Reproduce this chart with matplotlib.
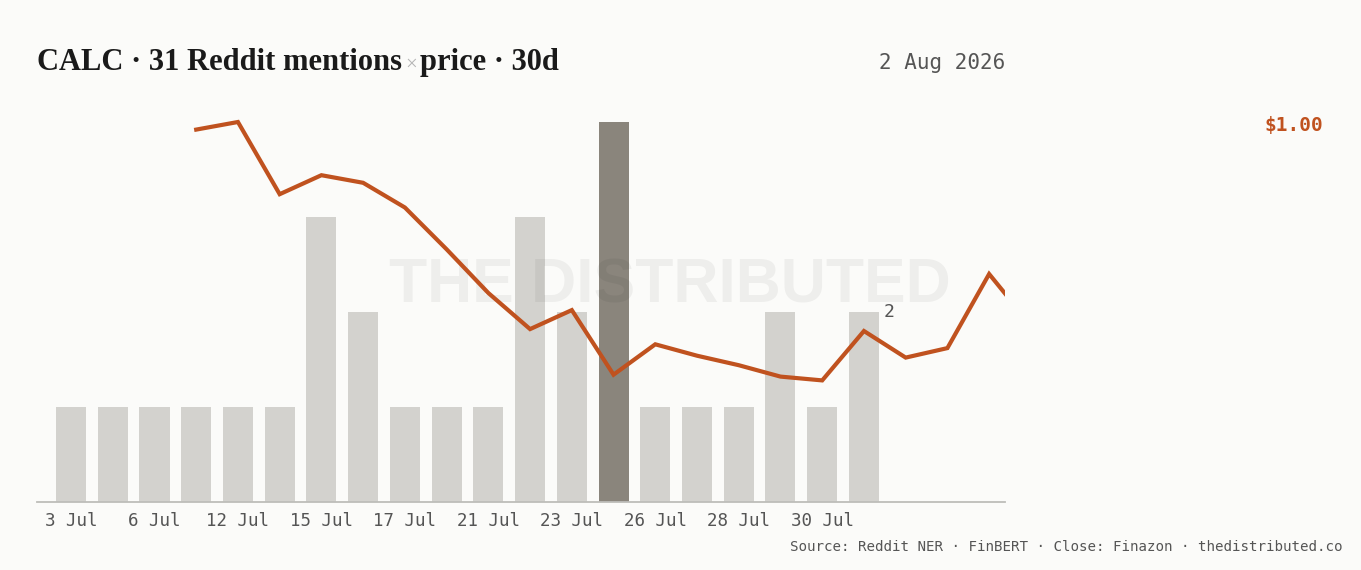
import numpy as np
import matplotlib.pyplot as plt

# mention days (bars) and counts
dates = ["3 Jul", "5 Jul", "6 Jul", "10 Jul", "12 Jul", "14 Jul", "15 Jul", "16 Jul",
         "17 Jul", "20 Jul", "21 Jul", "22 Jul", "23 Jul", "24 Jul", "26 Jul", "27 Jul",
         "28 Jul", "29 Jul", "30 Jul", "31 Jul"]
mentions = [1, 1, 1, 1, 1, 1, 3, 2, 1, 1, 1, 3, 2, 4, 1, 1, 1, 2, 1, 2]

# daily close, starts at the 4th slot and runs past the last bar
close = [None, None, None,
         0.996, 1.000, 0.962, 0.972, 0.968, 0.955, 0.933, 0.910, 0.891, 0.901,
         0.867, 0.883, 0.877, 0.872, 0.866, 0.864, 0.890, 0.876, 0.881, 0.920, 0.893]

bg = "#fbfbf9"
bar_col = "#d3d2ce"
hi_col = "#8a857c"
line_col = "#c0521f"
txt_col = "#555555"
mono = "DejaVu Sans Mono"

W, H = 1361, 570
fig = plt.figure(figsize=(W / 100, H / 100), dpi=100, facecolor=bg)

ax = fig.add_axes([37 / W, 68 / H, 968 / W, 402 / H])
ax.set_facecolor(bg)

x = np.arange(len(mentions))
peak = int(np.argmax(mentions))
cols = [hi_col if i == peak else bar_col for i in range(len(mentions))]
ax.bar(x, mentions, width=0.72, color=cols, zorder=2)

ax.set_xlim(-0.815, 22.38)
ax.set_ylim(0, 4 * 402 / 380)

for s in ["top", "right", "left"]:
    ax.spines[s].set_visible(False)
ax.spines["bottom"].set_color("#bdbdb9")
ax.spines["bottom"].set_linewidth(1.3)
ax.set_yticks([])
ax.set_xticks(x[::2])
ax.set_xticklabels(dates[::2], fontfamily=mono, fontsize=12.6, color=txt_col)
ax.tick_params(axis="x", length=0, pad=7)

# label on the last bar
ax.annotate(str(mentions[-1]), (x[-1] + 0.36, mentions[-1]), xytext=(3, 0),
            textcoords="offset points", va="center", ha="left",
            fontfamily=mono, fontsize=13, color=txt_col)

# watermark
ax.text(0.654, 0.537, "THE DISTRIBUTED", transform=ax.transAxes, ha="center", va="center",
        fontfamily="Liberation Sans", fontweight="bold", fontsize=45, color="black",
        alpha=0.05, zorder=3)

# price line
ax2 = ax.twinx()
ax2.set_ylim(0.80, 0.80 + 0.2 * 402 / 380)
px = [i for i, v in enumerate(close) if v is not None]
py = [v for v in close if v is not None]
ax2.plot(px, py, color=line_col, lw=3, solid_joinstyle="miter", zorder=4)
ax2.axis("off")

fig.text(1323 / W, 1 - 125 / H, "$1.00", ha="right", va="center", fontfamily=mono,
         fontsize=14, fontweight="bold", color=line_col)

# title in pieces so the × can be lighter
tfam = "Liberation Serif"
ty = 1 - 70 / H
renderer = fig.canvas.get_renderer()
t1 = fig.text(37 / W, ty, "CALC · 31 Reddit mentions", fontfamily=tfam, fontweight="bold",
              fontsize=22, color="#1a1a1a", va="baseline")
bb = t1.get_window_extent(renderer)
t2 = fig.text(bb.x1 / W + 3 / W, ty, "×", fontfamily=tfam, fontsize=15,
              color="#b5b5b5", va="baseline")
bb2 = t2.get_window_extent(renderer)
fig.text(bb2.x1 / W + 3 / W, ty, "price · 30d", fontfamily=tfam, fontweight="bold",
         fontsize=22, color="#1a1a1a", va="baseline")

fig.text(1005 / W, 1 - 63 / H, "2 Aug 2026", ha="right", va="center", fontfamily=mono,
         fontsize=15, color=txt_col)
fig.text(1342 / W, 1 - 547 / H, "Source: Reddit NER · FinBERT · Close: Finazon · thedistributed.co",
         ha="right", va="center", fontfamily=mono, fontsize=10.2, color=txt_col)

fig.savefig("out.png", dpi=100, facecolor=bg)
